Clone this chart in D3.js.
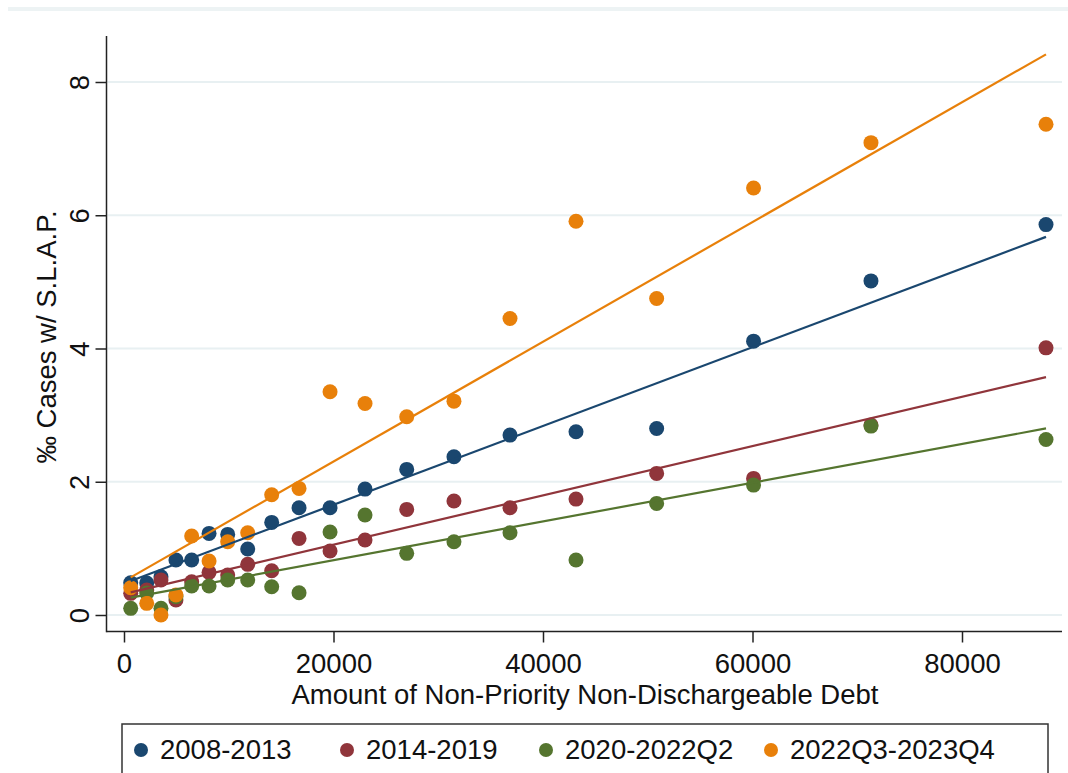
<!DOCTYPE html>
<html>
<head>
<meta charset="utf-8">
<script src="https://cdn.jsdelivr.net/npm/d3@7"></script>
<style>
html,body{margin:0;padding:0;background:#fff;}
svg text{font-family:Arial,"Liberation Sans",sans-serif;fill:#111;}
</style>
</head>
<body>
<svg id="chart" width="1068" height="773"></svg>
<script>
// ---- data ----
const seriesNames = ["2008-2013", "2014-2019", "2020-2022Q2", "2022Q3-2023Q4"];
const seriesColors = ["#1a476f", "#90353b", "#55752f", "#e8800a"];
const debtBins = [640, 2170, 3530, 4960, 6460, 8120, 9900, 11810, 14100, 16710,
                  19670, 23010, 26990, 31500, 36850, 43150, 50850, 60100, 71310, 88020];
const s2008_2013 = [0.485, 0.48, 0.575, 0.825, 0.825, 1.225, 1.21, 0.99, 1.39, 1.61,
                    1.61, 1.89, 2.185, 2.375, 2.70, 2.75, 2.80, 4.11, 5.015, 5.86];
const s2014_2019 = [0.325, 0.375, 0.525, 0.225, 0.50, 0.64, 0.60, 0.76, 0.665, 1.15,
                    0.96, 1.125, 1.585, 1.71, 1.61, 1.74, 2.125, 2.05, 2.85, 4.01];
const s2020_2022Q2 = [0.10, 0.33, 0.10, 0.275, 0.435, 0.435, 0.525, 0.525, 0.425, 0.335,
                      1.245, 1.50, 0.925, 1.10, 1.235, 0.825, 1.675, 1.95, 2.835, 2.635];
const s2022Q3_2023Q4 = [0.41, 0.175, 0.0, 0.3, 1.185, 0.81, 1.10, 1.235, 1.805, 1.90,
                        3.35, 3.175, 2.975, 3.21, 4.45, 5.91, 4.75, 6.41, 7.09, 7.365];
const fitX = [640, 88020];
const fit2008_2013 = [0.51, 5.675];
const fit2014_2019 = [0.34, 3.57];
const fit2020_2022Q2 = [0.26, 2.80];
const fit2022Q3_2023Q4 = [0.565, 8.415];
const xTicks = [0, 20000, 40000, 60000, 80000];
const yTicks = [0, 2, 4, 6, 8];
const xTitle = "Amount of Non-Priority Non-Dischargeable Debt";
const yTitle = "‰ Cases w/ S.L.A.P.";

const seriesValues = [s2008_2013, s2014_2019, s2020_2022Q2, s2022Q3_2023Q4];
const fitValues = [fit2008_2013, fit2014_2019, fit2020_2022Q2, fit2022Q3_2023Q4];

// ---- layout ----
const svg = d3.select("#chart");
const x = d3.scaleLinear().domain([0, 80000]).range([124, 962]);
const y = d3.scaleLinear().domain([0, 8]).range([615, 82]);
const plotLeft = 106.5, plotRight = 1062, plotTop = 36, plotBottom = 631.5;
const fontSize = 27.5;

// top faint band
svg.append("rect").attr("x", 8).attr("y", 7).attr("width", 1060).attr("height", 4)
  .attr("fill", "#edf3f4");

// gridlines
svg.append("g").selectAll("line").data(yTicks).join("line")
  .attr("x1", plotLeft + 1).attr("x2", plotRight)
  .attr("y1", d => y(d)).attr("y2", d => y(d))
  .attr("stroke", "#e8f0f2").attr("stroke-width", 2);

// y axis
const yAxis = svg.append("g").attr("transform", `translate(${plotLeft},0)`)
  .call(d3.axisLeft(y).tickValues(yTicks).tickSize(11).tickFormat(d3.format("d")));
yAxis.select(".domain").remove();
yAxis.selectAll(".tick line").attr("stroke", "#222").attr("stroke-width", 1.5);
yAxis.selectAll(".tick text").remove();
yAxis.selectAll(".tick").append("text")
  .attr("transform", "translate(-18,0) rotate(-90)")
  .attr("text-anchor", "middle")
  .attr("font-size", fontSize)
  .text(d => d3.format("d")(d));
svg.append("line").attr("x1", plotLeft).attr("x2", plotLeft)
  .attr("y1", plotTop).attr("y2", plotBottom + 0.75)
  .attr("stroke", "#222").attr("stroke-width", 1.5);

// x axis
const xAxis = svg.append("g").attr("transform", `translate(0,${plotBottom})`)
  .call(d3.axisBottom(x).tickValues(xTicks).tickSize(11).tickFormat(d3.format("d")));
xAxis.select(".domain").remove();
xAxis.selectAll(".tick line").attr("stroke", "#222").attr("stroke-width", 1.5);
xAxis.selectAll(".tick text").attr("y", 0).attr("dy", 0)
  .attr("transform", "translate(0,41)")
  .attr("font-size", fontSize).attr("font-family", "Arial, 'Liberation Sans', sans-serif")
  .attr("fill", "#111");
svg.append("line").attr("x1", plotLeft).attr("x2", plotRight)
  .attr("y1", plotBottom).attr("y2", plotBottom)
  .attr("stroke", "#222").attr("stroke-width", 1.5);

// titles
svg.append("text").attr("x", 585).attr("y", 704)
  .attr("text-anchor", "middle").attr("font-size", fontSize).text(xTitle);
svg.append("text").attr("transform", "translate(56,337) rotate(-90)")
  .attr("text-anchor", "middle").attr("font-size", fontSize).text(yTitle);

// scatter points
const pts = svg.append("g");
seriesValues.forEach((vals, si) => {
  pts.append("g").selectAll("circle").data(vals).join("circle")
    .attr("cx", (d, i) => x(debtBins[i]))
    .attr("cy", d => y(d))
    .attr("r", 7.5)
    .attr("fill", seriesColors[si]);
});

// fit lines
const line = d3.line().x(d => x(d[0])).y(d => y(d[1]));
fitValues.forEach((f, si) => {
  svg.append("path").datum(fitX.map((xv, i) => [xv, f[i]]))
    .attr("d", line).attr("fill", "none")
    .attr("stroke", seriesColors[si]).attr("stroke-width", 2.2);
});

// legend
const legX = 122, legY = 724;
svg.append("rect").attr("x", legX).attr("y", legY).attr("width", 926).attr("height", 70)
  .attr("fill", "#fff").attr("stroke", "#333").attr("stroke-width", 1.5);
const legDots = [141, 347, 546, 771];
const lg = svg.append("g").selectAll("g").data(seriesNames).join("g")
  .attr("transform", (d, i) => `translate(${legDots[i]},750)`);
lg.append("circle").attr("r", 7).attr("fill", (d, i) => seriesColors[i]);
lg.append("text").attr("x", 19).attr("y", 9).attr("font-size", fontSize).text(d => d);
</script>
</body>
</html>
